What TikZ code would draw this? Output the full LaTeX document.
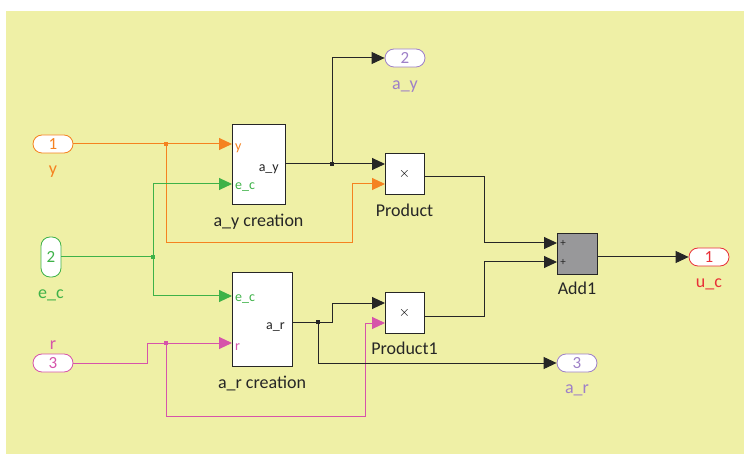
\documentclass[tikz,border=0pt]{standalone}
\usepackage{fontspec}
\setmainfont{Carlito}
\usetikzlibrary{positioning, arrows.meta, calc}
\definecolor{SLYellow}{RGB}{239,240,166}
\definecolor{SLOrange}{RGB}{245,130,32}
\definecolor{SLGreen}{RGB}{62,178,72}
\definecolor{SLPink}{RGB}{214,84,170}
\definecolor{SLPurple}{RGB}{158,128,200}
\definecolor{SLRed}{RGB}{232,48,56}
\definecolor{SLGrey}{RGB}{152,152,154}
\definecolor{SLDark}{RGB}{38,38,38}

\begin{document}
\begin{tikzpicture}[x=1pt, y=-1pt,
          blk/.style={rectangle, draw=SLDark, fill=white, line width=0.9pt, inner sep=0pt},
          port/.style={rectangle, draw, fill=white, rounded corners=9pt, line width=0.8pt,
                       minimum width=40pt, minimum height=18pt, inner sep=0pt,
                       font=\fontsize{17}{17}\selectfont},
          blkcap/.style={font=\fontsize{18}{20}\selectfont, text=SLDark, inner sep=2pt},
          plbl/.style={font=\fontsize{14}{14}\selectfont, inner sep=3pt},
          wire/.style={line width=1pt, SLDark},
          arr/.style={wire, -{Triangle[length=13pt, width=12pt]}},
          dot/.style={rectangle, fill, minimum size=4pt, inner sep=0pt}
        ]
        \useasboundingbox (0,0) rectangle (744,454);
        \fill[SLYellow] (6,11) rectangle (744,454);

        % ports
        \node[port, draw=SLOrange, text=SLOrange] (in1) at (53,144) {1};
        \node[port, draw=SLGreen, text=SLGreen, minimum width=20pt, minimum height=40pt]
              (in2) at (51,257) {2};
        \node[port, draw=SLPink, text=SLPink] (in3) at (53,363) {3};
        \node[port, draw=SLPurple, text=SLPurple] (out2) at (405,58) {2};
        \node[port, draw=SLRed, text=SLRed] (out1) at (709,257) {1};
        \node[port, draw=SLPurple, text=SLPurple] (out3) at (577,363) {3};
        \node[blkcap, text=SLOrange, below=10pt of in1] {y};
        \node[blkcap, text=SLGreen, below=10pt of in2] {e\_c};
        \node[blkcap, text=SLPink, above=2pt of in3] {r};
        \node[blkcap, text=SLPurple, below=11pt of out2] {a\_y};
        \node[blkcap, text=SLRed, below=10pt of out1] {u\_c};
        \node[blkcap, text=SLPurple, below=10pt of out3] {a\_r};

        % blocks
        \node[blk, minimum width=53pt, minimum height=80pt] (ayc) at (258.5,164) {};
        \node[blk, minimum width=60pt, minimum height=94pt] (arc) at (262,319) {};
        \node[blk, minimum width=39pt, minimum height=41pt, font=\fontsize{15}{15}\selectfont]
              (prod) at (404.5,173.5) {$\times$};
        \node[blk, minimum width=39pt, minimum height=41pt, font=\fontsize{15}{15}\selectfont]
              (prod1) at (404.5,312.5) {$\times$};
        \node[blk, fill=SLGrey, minimum width=40pt, minimum height=41pt] (add1) at (577,253.5) {};
        \node[blkcap, below=7pt of ayc] {a\_y creation};
        \node[blkcap, below=7pt of arc] {a\_r creation};
        \node[blkcap, below=7pt of prod] {Product};
        \node[blkcap, below=6pt of prod1] {Product1};
        \node[blkcap, below=5pt of add1] {Add1};

        \coordinate (ayc-y) at (232,144);
        \coordinate (ayc-e) at (232,184);
        \coordinate (ayc-o) at (285,164);
        \coordinate (arc-e) at (232,296);
        \coordinate (arc-r) at (232,343);
        \coordinate (arc-o) at (292,322);
        \coordinate (prod-a) at (385,164);
        \coordinate (prod-b) at (385,184);
        \coordinate (prod-o) at (424,177);
        \coordinate (prod1-a) at (385,303);
        \coordinate (prod1-b) at (385,323);
        \coordinate (prod1-o) at (424,316);
        \coordinate (add1-a) at (557,243);
        \coordinate (add1-b) at (557,262);
        \coordinate (add1-o) at (597,257);

        \node[plbl, anchor=west, text=SLOrange, yshift=-4pt] at (ayc-y) {y};
        \node[plbl, anchor=west, text=SLGreen, yshift=-3pt] at (ayc-e) {e\_c};
        \node[plbl, anchor=east, text=SLDark, yshift=-5pt, xshift=-3pt] at (ayc-o) {a\_y};
        \node[plbl, anchor=west, text=SLGreen, yshift=-3pt] at (arc-e) {e\_c};
        \node[plbl, anchor=west, text=SLPink, yshift=-4pt] at (arc-r) {r};
        \node[plbl, anchor=east, text=SLDark, yshift=-5pt, xshift=-4pt] at (arc-o) {a\_r};
        \node[font=\fontsize{11}{11}\selectfont, inner sep=0pt, text=SLDark] at (563,243) {+};
        \node[font=\fontsize{11}{11}\selectfont, inner sep=0pt, text=SLDark] at (563,262) {+};

        % branch points
        \node[dot, SLOrange] (yb) at (166,144) {};
        \node[dot, SLGreen] (eb) at (153,257) {};
        \node[dot, SLPink] (rb) at (166,343) {};
        \node[dot, SLDark] (ayb) at (332,164) {};
        \node[dot, SLDark] (arb) at (318,322) {};

        \draw[arr, SLOrange] (in1) -- (ayc-y);
        \draw[arr, SLOrange] (yb.center) |- (352,243) |- (prod-b);
        \draw[wire, SLGreen] (in2) -- (eb.center);
        \draw[arr, SLGreen] (eb.center) |- (ayc-e);
        \draw[arr, SLGreen] (eb.center) |- (arc-e);
        \draw[arr, SLPink] (in3) -| (147,343) -- (arc-r);
        \draw[arr, SLPink] (rb.center) |- (365,416) |- (prod1-b);
        \draw[arr] (ayc-o) -- (prod-a);
        \draw[arr] (ayb.center) |- (out2);
        \draw[arr] (arc-o) -| (332,303) -- (prod1-a);
        \draw[arr] (arb.center) |- (out3);
        \draw[arr] (prod-o) -| (484,243) -- (add1-a);
        \draw[arr] (prod1-o) -| (484,262) -- (add1-b);
        \draw[arr] (add1-o) -- (out1);
      \end{tikzpicture}
\end{document}
